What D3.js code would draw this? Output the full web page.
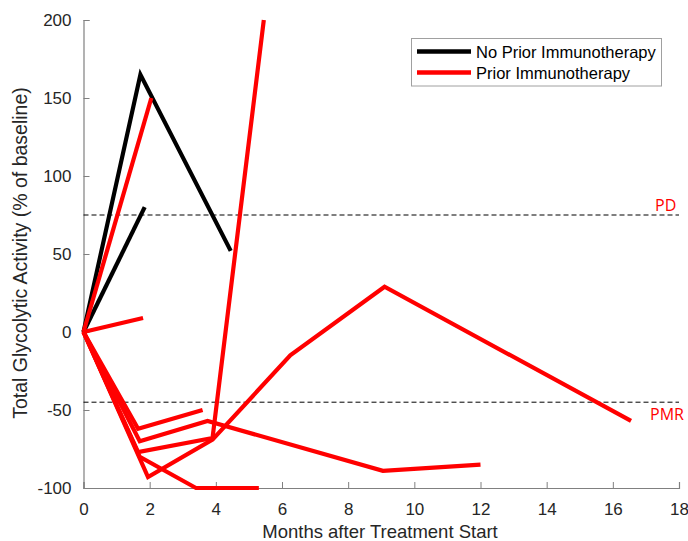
<!DOCTYPE html>
<html><head><meta charset="utf-8">
<script src="https://cdn.jsdelivr.net/npm/d3@7"></script>
<style>body{margin:0;background:#fff}</style>
</head><body>
<svg id="c" width="688" height="541"></svg>
<script>
const xTicks = [0,2,4,6,8,10,12,14,16,18];
const yTicks = [-100,-50,0,50,100,150,200];
const seriesNames = ["No Prior Immunotherapy","Prior Immunotherapy"];
const seriesColors = ["#000000","#ff0000"];
const noPrior = [
  [[0,0],[1.72,165],[4.45,52]],
  [[0,0],[1.85,80]]
];
const prior = [
  [[0,0],[2.05,150]],
  [[0,0],[1.8,9]],
  [[0,0],[1.65,-62],[3.6,-50]],
  [[0,0],[1.7,-70],[3.75,-57],[9.05,-89],[12,-85]],
  [[0,0],[1.65,-77],[3.9,-68],[5.45,200]],
  [[0,0],[1.95,-93],[3.9,-69],[6.25,-15],[9.1,29],[16.55,-57]],
  [[0,0],[1.7,-80],[3.4,-100],[5.3,-100]]
];
const thresholds = [{label:"PD", value:75},{label:"PMR", value:-45}];

const svg = d3.select("#c");
const x = d3.scaleLinear().domain([0,18]).range([83.5,679]);
const y = d3.scaleLinear().domain([-100,200]).range([488,20]);
const axisColor = "#808080", textColor = "#262626";
const sans = "'Liberation Sans',Arial,sans-serif";

const gx = svg.append("g").attr("transform","translate(0,488)")
  .call(d3.axisBottom(x).tickValues(xTicks).tickSize(-6).tickPadding(15).tickFormat(d=>String(d)));
const gy = svg.append("g").attr("transform","translate(83.5,0)")
  .call(d3.axisLeft(y).tickValues(yTicks).tickSize(-6).tickPadding(12).tickFormat(d=>String(d)));
[gx,gy].forEach(g=>{
  g.select(".domain").attr("stroke",axisColor).attr("stroke-width",1.2);
  g.selectAll(".tick line").attr("stroke",axisColor);
  g.selectAll(".tick text").attr("fill",textColor).style("font-family",sans).style("font-size","17px");
});

// thresholds
thresholds.forEach(t=>{
  svg.append("line").attr("x1",x(0)).attr("x2",x(18)).attr("y1",y(t.value)).attr("y2",y(t.value))
    .attr("stroke","#000").attr("stroke-width",1).attr("stroke-dasharray","5,3");
});
svg.append("text").attr("x",655).attr("y",y(75)-4).text(thresholds[0].label)
  .attr("fill","#ff0000").style("font-family","'Open Sans',sans-serif").style("font-size","16px");
svg.append("text").attr("x",650).attr("y",y(-45)+18).text(thresholds[1].label)
  .attr("fill","#ff0000").style("font-family","'Open Sans',sans-serif").style("font-size","16px");

const line = d3.line().x(d=>x(d[0])).y(d=>y(d[1]));
noPrior.forEach(s=>svg.append("path").attr("d",line(s)).attr("fill","none").attr("stroke",seriesColors[0]).attr("stroke-width",4.2));
prior.forEach(s=>svg.append("path").attr("d",line(s)).attr("fill","none").attr("stroke",seriesColors[1]).attr("stroke-width",4.2));

// legend
const lg = svg.append("g");
lg.append("rect").attr("x",411.5).attr("y",38.5).attr("width",250).attr("height",47.5)
  .attr("fill","#fff").attr("stroke","#a0a0a0").attr("stroke-width",1);
seriesNames.forEach((n,i)=>{
  const yy = 51.5 + i*21;
  lg.append("line").attr("x1",417).attr("x2",471).attr("y1",yy).attr("y2",yy).attr("stroke",seriesColors[i]).attr("stroke-width",4.5);
  lg.append("text").attr("x",476).attr("y",yy+6).text(n).attr("fill","#000")
    .style("font-family",sans).style("font-size","16.5px");
});

// axis titles
svg.append("text").attr("x",380).attr("y",538).attr("text-anchor","middle").text("Months after Treatment Start")
  .attr("fill",textColor).style("font-family",sans).style("font-size","18.5px");
svg.append("text").attr("transform","translate(27,253) rotate(-90)").attr("text-anchor","middle")
  .text("Total Glycolytic Activity (% of baseline)")
  .attr("fill",textColor).style("font-family",sans).style("font-size","19.5px");
</script>
</body></html>
